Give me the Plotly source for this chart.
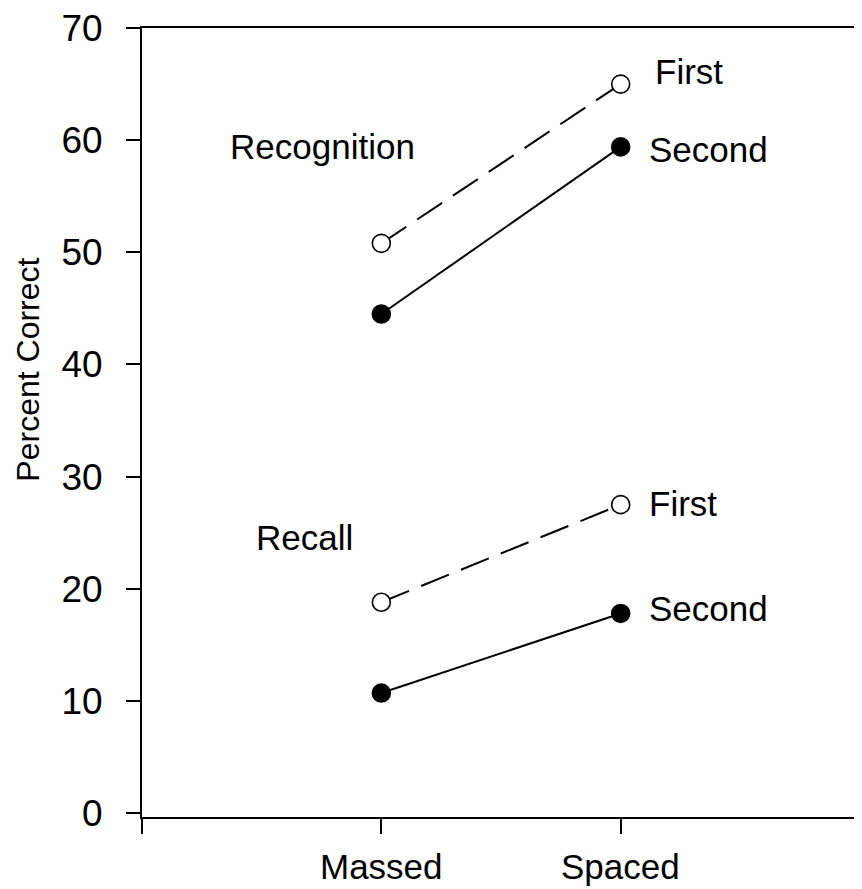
import plotly.graph_objects as go

conditions = ["Massed", "Spaced"]
cond_x = [1, 2]
recog_first = [50.8, 65.0]
recog_second = [44.5, 59.4]
recall_first = [18.8, 27.5]
recall_second = [10.7, 17.8]
y_ticks = [0, 10, 20, 30, 40, 50, 60, 70]

FONT = "Liberation Sans, Arial, sans-serif"

fig = go.Figure()

def add_series(yvals, filled, dashed):
    fig.add_trace(go.Scatter(
        x=cond_x, y=yvals, mode="lines+markers",
        line=dict(color="black", width=2, dash="30px,13px" if dashed else "solid"),
        marker=dict(size=18, color="black" if filled else "white",
                    line=dict(color="black", width=1.6)),
        showlegend=False, hoverinfo="skip"))

add_series(recog_first, False, True)
add_series(recog_second, True, False)
add_series(recall_first, False, True)
add_series(recall_second, True, False)

annots = [
    ("First", 2.135, 66.1), ("Second", 2.11, 59.2),
    ("First", 2.11, 27.6), ("Second", 2.11, 18.2),
]
for txt, xx, yy in annots:
    fig.add_annotation(x=xx, y=yy, text=txt, showarrow=False, xanchor="left",
                       yanchor="middle", font=dict(size=35, color="black", family=FONT))

fig.add_annotation(x=0.754, y=59.4, text="Recognition", showarrow=False,
                   xanchor="center", yanchor="middle",
                   font=dict(size=35, color="black", family=FONT))
fig.add_annotation(x=0.68, y=24.6, text="Recall", showarrow=False,
                   xanchor="center", yanchor="middle",
                   font=dict(size=35, color="black", family=FONT))
fig.add_annotation(x=-0.158, xref="paper", y=39.5, yref="y", text="Percent Correct",
                   showarrow=False, textangle=-90, xanchor="center", yanchor="middle",
                   font=dict(size=32, color="black", family=FONT))

# category labels placed below the x axis
for cx, lab in zip(cond_x, conditions):
    fig.add_annotation(x=cx, xref="x", y=-0.063, yref="paper", text=lab,
                       showarrow=False, xanchor="center", yanchor="middle",
                       font=dict(size=35, color="black", family=FONT))

fig.update_xaxes(range=[0, 3], tickvals=[0] + cond_x, showticklabels=False,
                 ticks="outside", ticklen=15, tickwidth=1.5, tickcolor="black",
                 showline=True, linecolor="black", linewidth=2, mirror=True,
                 showgrid=False, zeroline=False)
fig.update_yaxes(range=[-0.35, 70], tickvals=y_ticks,
                 ticks="outside", ticklen=14, tickwidth=1.5, tickcolor="black",
                 showline=True, linecolor="black", linewidth=2, mirror=True,
                 showgrid=False, zeroline=False, ticklabelstandoff=16,
                 ticklabeloverflow="allow",
                 tickfont=dict(size=37, color="black", family=FONT))

# the page body adds an 8px offset, so the figure is sized to fill the rest of the window
fig.update_layout(width=854, height=881, plot_bgcolor="white", paper_bgcolor="white",
                  margin=dict(l=134, r=0, t=16, b=72))

fig.write_html("out.html")
